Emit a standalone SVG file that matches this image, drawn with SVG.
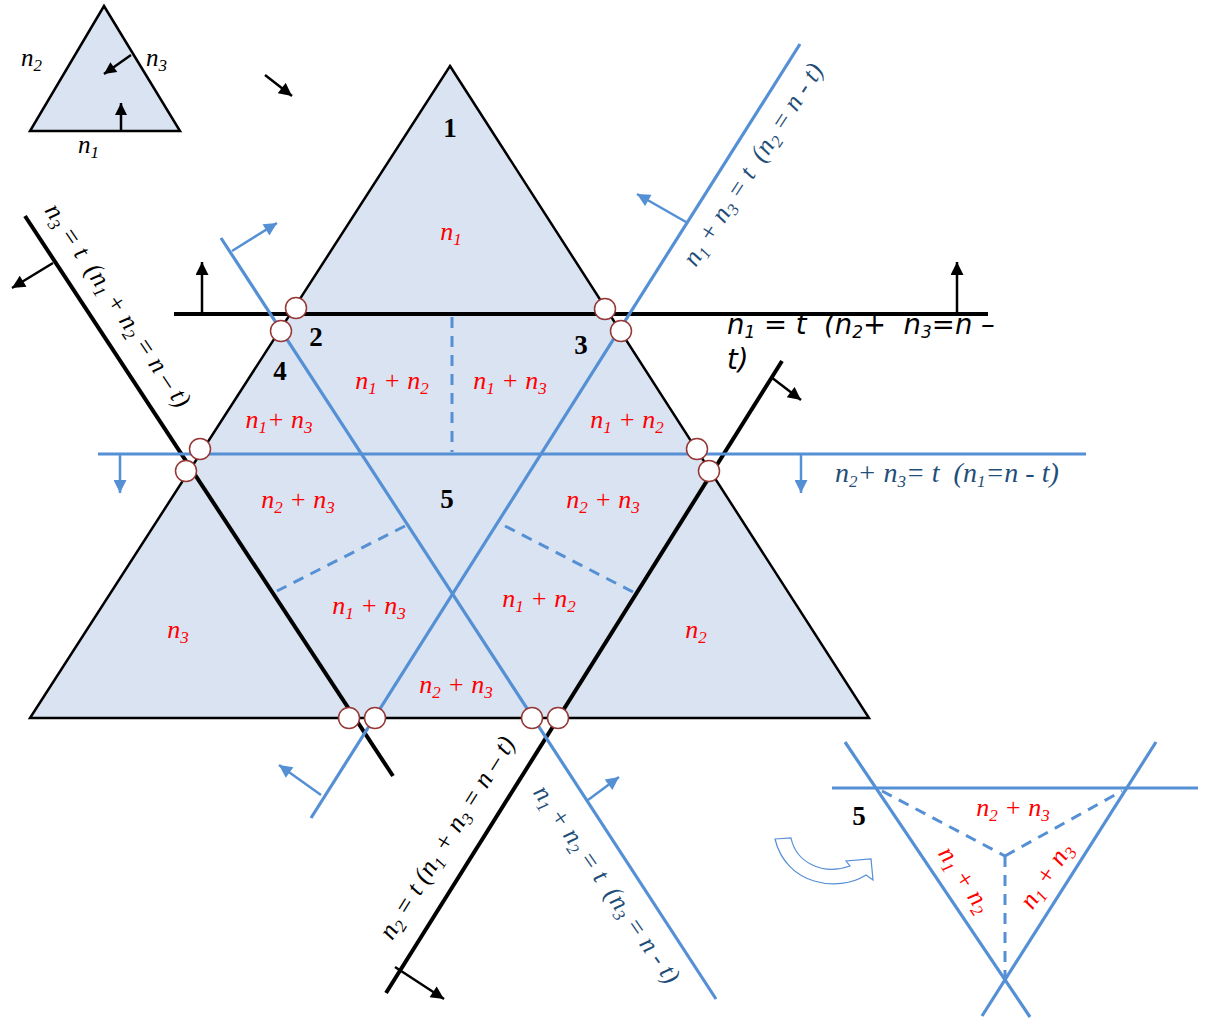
<svg xmlns="http://www.w3.org/2000/svg" width="1209" height="1019" viewBox="0 0 1209 1019">
<defs>
<style>
.tri{fill:#DAE3F1;stroke:#000;stroke-width:2.5;stroke-linejoin:miter}
.bk{stroke:#000;stroke-width:4;fill:none}
.bl{stroke:#5590D5;stroke-width:3.2;fill:none}
.dash{stroke:#5590D5;stroke-width:3;fill:none;stroke-dasharray:11 8}
.ak{stroke:#000;stroke-width:2.5;fill:none;marker-end:url(#hk)}
.akS{stroke:#000;stroke-width:2.5;fill:none;marker-end:url(#hkS)}
.ab{stroke:#5590D5;stroke-width:2.5;fill:none;marker-end:url(#hb)}
.c{fill:#fff;stroke:#953735;stroke-width:1.5}
.m{font-family:"Liberation Serif","Times New Roman",serif;font-style:italic;font-size:26px;white-space:pre}
.red{fill:#FF0000}
.db{fill:#1F4E79}
.k{fill:#000}
.s{font-size:17px}
.num{font-family:"Liberation Serif","Times New Roman",serif;font-weight:bold;font-size:27px;fill:#000}
.dv{font-family:"DejaVu Sans",sans-serif;font-style:italic;font-size:27.5px;fill:#000;white-space:pre}
.s2{font-size:17px}
</style>
<marker id="hk" viewBox="0 0 10 10" refX="10" refY="5" markerWidth="15" markerHeight="13" markerUnits="userSpaceOnUse" orient="auto"><path d="M0,0 L10,5 L0,10 z" fill="#000"/></marker>
<marker id="hkS" viewBox="0 0 10 10" refX="10" refY="5" markerWidth="13" markerHeight="12" markerUnits="userSpaceOnUse" orient="auto"><path d="M0,0 L10,5 L0,10 z" fill="#000"/></marker>
<marker id="hb" viewBox="0 0 10 10" refX="10" refY="5" markerWidth="15" markerHeight="13" markerUnits="userSpaceOnUse" orient="auto"><path d="M0,0 L10,5 L0,10 z" fill="#5590D5"/></marker>
</defs>

<g id="legend-triangle">
<polygon class="tri" points="104,6 180,131 30,131"/>
<line class="akS" x1="121" y1="131" x2="121" y2="103"/>
<line class="akS" x1="131" y1="55" x2="104" y2="74"/>
<text class="m k" x="21" y="66" style="font-size:25px">n<tspan class="s" dy="5">2</tspan></text>
<text class="m k" x="146" y="66" style="font-size:25px">n<tspan class="s" dy="5">3</tspan></text>
<text class="m k" x="78" y="153" style="font-size:25px">n<tspan class="s" dy="5">1</tspan></text>
</g>

<g id="main-triangle">
<polygon class="tri" points="450,66 869,718 30,718"/>
</g>

<g id="connectors">
<line class="ak" x1="265" y1="75" x2="292" y2="96"/>
<line class="bk" x1="174" y1="314" x2="988" y2="314"/>
<line class="ak" x1="202" y1="314" x2="202" y2="262"/>
<line class="ak" x1="957" y1="314" x2="957" y2="262"/>
<line class="bk" x1="25" y1="216" x2="393" y2="776"/>
<line class="ak" x1="53" y1="263" x2="12" y2="288"/>
<line class="bk" x1="386" y1="993" x2="782" y2="361"/>
<line class="ak" x1="771" y1="377" x2="801" y2="400"/>
<line class="ak" x1="395" y1="967" x2="444" y2="999"/>
<line class="bl" x1="98" y1="454" x2="1086" y2="454"/>
<line class="ab" x1="120" y1="454" x2="120" y2="493"/>
<line class="ab" x1="801" y1="454" x2="801" y2="493"/>
<line class="bl" x1="311" y1="818" x2="800" y2="44"/>
<line class="ab" x1="686" y1="222" x2="637" y2="194"/>
<line class="ab" x1="321" y1="795" x2="279" y2="765"/>
<line class="bl" x1="221" y1="238" x2="716" y2="999"/>
<line class="ab" x1="232" y1="251" x2="277" y2="223"/>
<line class="ab" x1="588" y1="800" x2="619" y2="777"/>
<line class="dash" x1="452" y1="317" x2="452" y2="452"/>
<line class="dash" x1="405" y1="526" x2="277" y2="591"/>
<line class="dash" x1="505" y1="526" x2="633" y2="592"/>
</g>

<g id="intersections">
<circle class="c" cx="296" cy="308" r="10.5"/>
<circle class="c" cx="281" cy="331" r="10.5"/>
<circle class="c" cx="605" cy="309" r="10.5"/>
<circle class="c" cx="621" cy="331" r="10.5"/>
<circle class="c" cx="200" cy="449" r="10.5"/>
<circle class="c" cx="186" cy="471" r="10.5"/>
<circle class="c" cx="697" cy="449" r="10.5"/>
<circle class="c" cx="709" cy="471" r="10.5"/>
<circle class="c" cx="349" cy="718" r="10.5"/>
<circle class="c" cx="375" cy="718" r="10.5"/>
<circle class="c" cx="532" cy="718" r="10.5"/>
<circle class="c" cx="558" cy="718" r="10.5"/>
</g>

<g id="region-labels">
<text class="num" x="450" y="137" text-anchor="middle">1</text>
<text class="num" x="316" y="346" text-anchor="middle">2</text>
<text class="num" x="581" y="354" text-anchor="middle">3</text>
<text class="num" x="280" y="380" text-anchor="middle">4</text>
<text class="num" x="447" y="508" text-anchor="middle">5</text>

<text class="m red" x="451" y="240" text-anchor="middle">n<tspan class="s" dy="5">1</tspan></text>
<text class="m red" x="392" y="389" text-anchor="middle">n<tspan class="s" dy="5">1</tspan><tspan dy="-5"> + n</tspan><tspan class="s" dy="5">2</tspan></text>
<text class="m red" x="510" y="389" text-anchor="middle">n<tspan class="s" dy="5">1</tspan><tspan dy="-5"> + n</tspan><tspan class="s" dy="5">3</tspan></text>
<text class="m red" x="279" y="428" text-anchor="middle">n<tspan class="s" dy="5">1</tspan><tspan dy="-5">+ n</tspan><tspan class="s" dy="5">3</tspan></text>
<text class="m red" x="627" y="428" text-anchor="middle">n<tspan class="s" dy="5">1</tspan><tspan dy="-5"> + n</tspan><tspan class="s" dy="5">2</tspan></text>
<text class="m red" x="298" y="508" text-anchor="middle">n<tspan class="s" dy="5">2</tspan><tspan dy="-5"> + n</tspan><tspan class="s" dy="5">3</tspan></text>
<text class="m red" x="603" y="508" text-anchor="middle">n<tspan class="s" dy="5">2</tspan><tspan dy="-5"> + n</tspan><tspan class="s" dy="5">3</tspan></text>
<text class="m red" x="369" y="614" text-anchor="middle">n<tspan class="s" dy="5">1</tspan><tspan dy="-5"> + n</tspan><tspan class="s" dy="5">3</tspan></text>
<text class="m red" x="539" y="607" text-anchor="middle">n<tspan class="s" dy="5">1</tspan><tspan dy="-5"> + n</tspan><tspan class="s" dy="5">2</tspan></text>
<text class="m red" x="456" y="693" text-anchor="middle">n<tspan class="s" dy="5">2</tspan><tspan dy="-5"> + n</tspan><tspan class="s" dy="5">3</tspan></text>
<text class="m red" x="178" y="638" text-anchor="middle">n<tspan class="s" dy="5">3</tspan></text>
<text class="m red" x="696" y="638" text-anchor="middle">n<tspan class="s" dy="5">2</tspan></text>
</g>

<g id="line-labels">
<text class="dv" x="727" y="334">n<tspan class="s2" dy="4">1</tspan><tspan dy="-4"> = t  (n</tspan><tspan class="s2" dy="4">2</tspan><tspan dy="-4">+  n</tspan><tspan class="s2" dy="4">3</tspan><tspan dy="-4">=n –</tspan></text>
<text class="dv" x="727" y="369">t)</text>
<text class="m db" x="835" y="482" style="font-size:28px">n<tspan class="s" dy="5">2</tspan><tspan dy="-5">+ n</tspan><tspan class="s" dy="5">3</tspan><tspan dy="-5">= t  (n</tspan><tspan class="s" dy="5">1</tspan><tspan dy="-5">=n - t)</tspan></text>
<text class="m db" transform="translate(760,169) rotate(-57)" text-anchor="middle">n<tspan class="s" dy="5">1</tspan><tspan dy="-5"> + n</tspan><tspan class="s" dy="5">3</tspan><tspan dy="-5"> = t  (n</tspan><tspan class="s" dy="5">2</tspan><tspan dy="-5"> = n - t)</tspan></text>
<text class="m k" transform="translate(111,310) rotate(56)" text-anchor="middle">n<tspan class="s" dy="5">3</tspan><tspan dy="-5"> = t  (n</tspan><tspan class="s" dy="5">1</tspan><tspan dy="-5"> + n</tspan><tspan class="s" dy="5">2</tspan><tspan dy="-5"> = n – t)</tspan></text>
<text class="m k" transform="translate(454,842) rotate(-58)" text-anchor="middle">n<tspan class="s" dy="5">2</tspan><tspan dy="-5"> = t (n</tspan><tspan class="s" dy="5">1</tspan><tspan dy="-5"> + n</tspan><tspan class="s" dy="5">3</tspan><tspan dy="-5"> = n – t)</tspan></text>
<text class="m db" transform="translate(600,889) rotate(55)" text-anchor="middle">n<tspan class="s" dy="5">1</tspan><tspan dy="-5"> + n</tspan><tspan class="s" dy="5">2</tspan><tspan dy="-5"> = t  (n</tspan><tspan class="s" dy="5">3</tspan><tspan dy="-5"> = n - t)</tspan></text>
</g>

<g id="inset-region-5">
<path d="M775,839 L791,838 C796,862 822,876 850,866 L846,861 L871,859 L873,880 L866,875 C838,893 786,885 775,839 Z" fill="#fff" stroke="#5590D5" stroke-width="1.2"/>
<line class="bl" x1="832" y1="788" x2="1198" y2="788"/>
<line class="bl" x1="845" y1="742" x2="1030" y2="1017"/>
<line class="bl" x1="1156" y1="742" x2="982" y2="1016"/>
<line class="dash" x1="882" y1="791" x2="1005" y2="856"/>
<line class="dash" x1="1005" y1="856" x2="1122" y2="791"/>
<line class="dash" x1="1005" y1="856" x2="1005" y2="978"/>
<text class="num" x="859" y="825" text-anchor="middle">5</text>
<text class="m red" x="1013" y="816" text-anchor="middle">n<tspan class="s" dy="5">2</tspan><tspan dy="-5"> + n</tspan><tspan class="s" dy="5">3</tspan></text>
<text class="m red" transform="translate(958,884) rotate(56)" text-anchor="middle">n<tspan class="s" dy="5">1</tspan><tspan dy="-5"> + n</tspan><tspan class="s" dy="5">2</tspan></text>
<text class="m red" transform="translate(1053,880) rotate(-56)" text-anchor="middle">n<tspan class="s" dy="5">1</tspan><tspan dy="-5"> + n</tspan><tspan class="s" dy="5">3</tspan></text>
</g>
</svg>
